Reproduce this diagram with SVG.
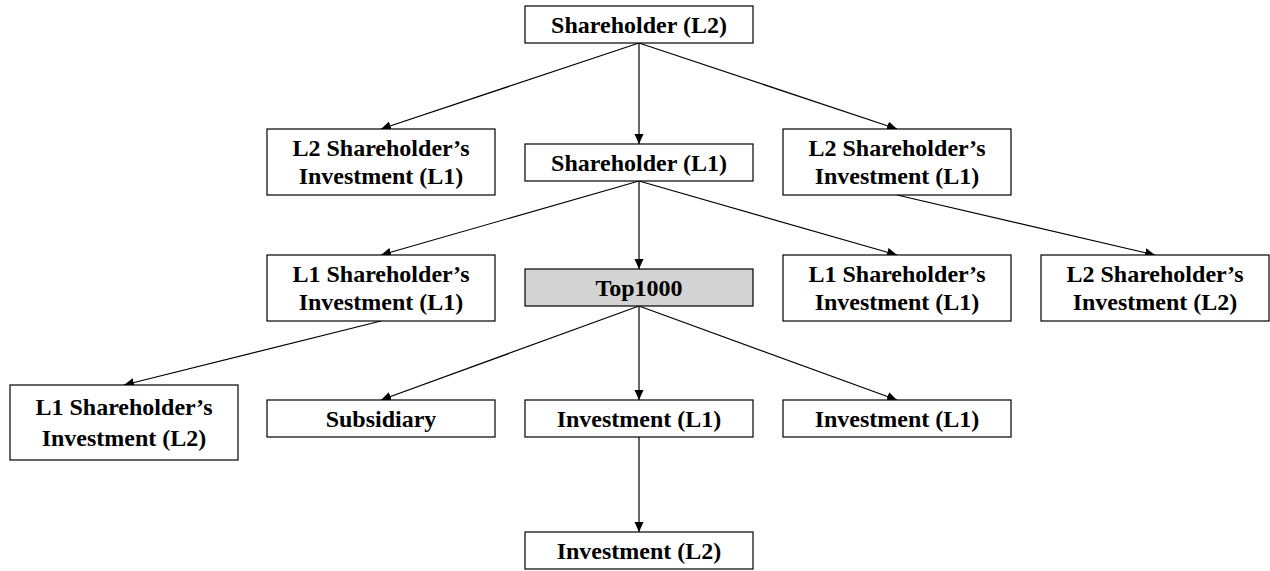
<svg xmlns="http://www.w3.org/2000/svg" width="1270" height="571" viewBox="0 0 1270 571">
<style>
.box{fill:#fff;stroke:#000;stroke-width:1.2}
.gray{fill:#d3d3d3}
.t{font-family:"Liberation Serif","Times New Roman",serif;font-weight:bold;font-size:24px;text-anchor:middle;fill:#000}
.c{stroke:#000;stroke-width:1.2;fill:none;marker-end:url(#ah)}
</style>
<defs>
<marker id="ah" markerUnits="userSpaceOnUse" markerWidth="11" markerHeight="10" refX="10" refY="4.5" orient="auto">
<path d="M0,0 L10,4.5 L0,9 z" fill="#000"/>
</marker>
</defs>
<rect width="1270" height="571" fill="#fff"/>
<g id="connectors">
<line class="c" x1="639" y1="43" x2="381" y2="129"/>
<line class="c" x1="639" y1="43" x2="639" y2="144"/>
<line class="c" x1="639" y1="43" x2="897" y2="129"/>
<line class="c" x1="639" y1="181" x2="381" y2="255"/>
<line class="c" x1="639" y1="181" x2="639" y2="269"/>
<line class="c" x1="639" y1="181" x2="897" y2="255"/>
<line class="c" x1="897" y1="195" x2="1155" y2="255"/>
<line class="c" x1="381" y1="321" x2="124" y2="385"/>
<line class="c" x1="639" y1="306" x2="381" y2="400"/>
<line class="c" x1="639" y1="306" x2="639" y2="400"/>
<line class="c" x1="639" y1="306" x2="897" y2="400"/>
<line class="c" x1="639" y1="437" x2="639" y2="532"/>
</g>
<g id="shareholder-l2"><rect class="box" x="525" y="6" width="228" height="37"/><text class="t" x="639" y="32.5">Shareholder (L2)</text></g>
<g id="l2-si-l1-left"><rect class="box" x="267" y="129" width="228" height="66"/><text class="t" x="381" y="156">L2 Shareholder’s</text><text class="t" x="381" y="184">Investment (L1)</text></g>
<g id="shareholder-l1"><rect class="box" x="525" y="144" width="228" height="37"/><text class="t" x="639" y="170.5">Shareholder (L1)</text></g>
<g id="l2-si-l1-right"><rect class="box" x="783" y="129" width="228" height="66"/><text class="t" x="897" y="156">L2 Shareholder’s</text><text class="t" x="897" y="184">Investment (L1)</text></g>
<g id="l1-si-l1-left"><rect class="box" x="267" y="255" width="228" height="66"/><text class="t" x="381" y="282">L1 Shareholder’s</text><text class="t" x="381" y="310">Investment (L1)</text></g>
<g id="top1000"><rect class="box gray" x="525" y="269" width="228" height="37"/><text class="t" x="639" y="295.5">Top1000</text></g>
<g id="l1-si-l1-right"><rect class="box" x="783" y="255" width="228" height="66"/><text class="t" x="897" y="282">L1 Shareholder’s</text><text class="t" x="897" y="310">Investment (L1)</text></g>
<g id="l2-si-l2"><rect class="box" x="1041" y="255" width="228" height="66"/><text class="t" x="1155" y="282">L2 Shareholder’s</text><text class="t" x="1155" y="310">Investment (L2)</text></g>
<g id="l1-si-l2"><rect class="box" x="10" y="385" width="228" height="75"/><text class="t" x="124" y="415">L1 Shareholder’s</text><text class="t" x="124" y="446">Investment (L2)</text></g>
<g id="subsidiary"><rect class="box" x="267" y="400" width="228" height="37"/><text class="t" x="381" y="426.5">Subsidiary</text></g>
<g id="investment-l1"><rect class="box" x="525" y="400" width="228" height="37"/><text class="t" x="639" y="426.5">Investment (L1)</text></g>
<g id="investment-l1-right"><rect class="box" x="783" y="400" width="228" height="37"/><text class="t" x="897" y="426.5">Investment (L1)</text></g>
<g id="investment-l2"><rect class="box" x="525" y="532" width="228" height="37"/><text class="t" x="639" y="558.5">Investment (L2)</text></g>
</svg>
